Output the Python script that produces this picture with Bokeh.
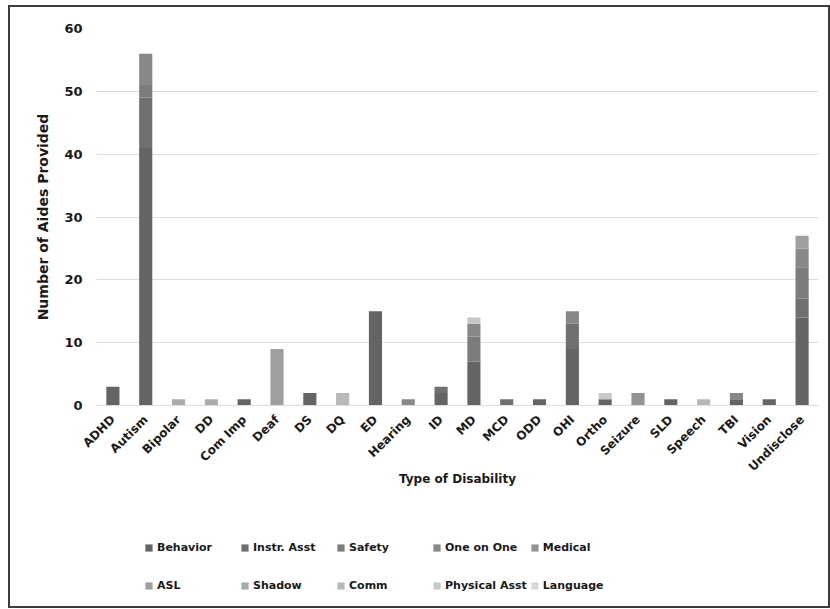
from math import pi

from bokeh.embed import file_html
from bokeh.layouts import column
from bokeh.models import ColumnDataSource, Legend, LegendItem, FactorRange, Range1d
from bokeh.plotting import figure
from bokeh.resources import INLINE

# Disability categories along the x axis
categories = ["ADHD", "Autism", "Bipolar", "DD", "Com Imp", "Deaf", "DS", "DQ",
              "ED", "Hearing", "ID", "MD", "MCD", "ODD", "OHI", "Ortho",
              "Seizure", "SLD", "Speech", "TBI", "Vision", "Undisclose"]

# Aide types (stacked from the bottom up)
aide_types = ["Behavior", "Instr. Asst", "Safety", "One on One", "Medical",
              "ASL", "Shadow", "Comm", "Physical Asst", "Language"]

behavior      = [3, 41, 0, 0, 1, 0, 2, 0, 15, 0, 2, 7, 0, 1, 9, 1, 0, 1, 0, 1, 1, 14]
instr_asst    = [0, 8, 0, 0, 0, 0, 0, 0, 0, 0, 1, 0, 1, 0, 4, 0, 0, 0, 0, 0, 0, 3]
safety        = [0, 2, 0, 0, 0, 0, 0, 0, 0, 0, 0, 4, 0, 0, 0, 0, 0, 0, 0, 0, 0, 5]
one_on_one    = [0, 5, 0, 0, 0, 0, 0, 0, 0, 1, 0, 2, 0, 0, 2, 0, 0, 0, 0, 1, 0, 3]
medical       = [0, 0, 0, 0, 0, 0, 0, 0, 0, 0, 0, 0, 0, 0, 0, 0, 2, 0, 0, 0, 0, 0]
asl           = [0, 0, 0, 0, 0, 9, 0, 0, 0, 0, 0, 0, 0, 0, 0, 0, 0, 0, 0, 0, 0, 2]
shadow        = [0, 0, 1, 1, 0, 0, 0, 0, 0, 0, 0, 0, 0, 0, 0, 0, 0, 0, 0, 0, 0, 0]
comm          = [0, 0, 0, 0, 0, 0, 0, 2, 0, 0, 0, 0, 0, 0, 0, 0, 0, 0, 1, 0, 0, 0]
physical_asst = [0, 0, 0, 0, 0, 0, 0, 0, 0, 0, 0, 1, 0, 0, 0, 1, 0, 0, 0, 0, 0, 0]
language      = [0, 0, 0, 0, 0, 0, 0, 0, 0, 0, 0, 0, 0, 0, 0, 0, 0, 0, 0, 0, 0, 0]

y_ticks = [0, 10, 20, 30, 40, 50, 60]

series_values = [behavior, instr_asst, safety, one_on_one, medical,
                 asl, shadow, comm, physical_asst, language]
grays = ["#646464", "#707070", "#7c7c7c", "#888888", "#939393",
         "#9f9f9f", "#ababab", "#b9b9b9", "#c8c8c8", "#d9d9d9"]

data = {"category": categories}
for name, vals in zip(aide_types, series_values):
    data[name] = vals
source = ColumnDataSource(data)

FONT = "DejaVu Sans"
TEXT = "#1a1a1a"

# ---- main chart -------------------------------------------------------------
p = figure(
    x_range=FactorRange(*categories, range_padding=0.0),
    y_range=(0, 60),
    width=818, height=500,
    output_backend="svg", toolbar_location=None,
    min_border_left=86, min_border_right=10, min_border_top=21,
    min_border_bottom=102,
)
p.outline_line_color = None
p.background_fill_color = "white"
p.border_fill_color = "white"

p.vbar_stack(aide_types, x="category", width=0.4, source=source,
             color=grays, line_color=None)

p.yaxis.ticker = y_ticks
p.yaxis.axis_line_color = None
p.yaxis.major_tick_line_color = None
p.yaxis.minor_tick_line_color = None
p.yaxis.major_label_text_font = FONT
p.yaxis.major_label_text_font_style = "bold"
p.yaxis.major_label_text_font_size = "13px"
p.yaxis.major_label_text_color = TEXT
p.yaxis.major_label_standoff = 8
p.yaxis.axis_label = "Number of Aides Provided"
p.yaxis.axis_label_text_font = FONT
p.yaxis.axis_label_text_font_style = "bold"
p.yaxis.axis_label_text_font_size = "14px"
p.yaxis.axis_label_text_color = TEXT
p.yaxis.axis_label_standoff = 10

p.xaxis.axis_line_color = "#d9dde6"
p.xaxis.major_tick_line_color = None
p.xaxis.minor_tick_line_color = None
p.xaxis.major_label_orientation = pi / 4
p.xaxis.major_label_text_font = FONT
p.xaxis.major_label_text_font_style = "bold"
p.xaxis.major_label_text_font_size = "12px"
p.xaxis.major_label_text_color = TEXT
p.xaxis.major_label_standoff = 6
p.xaxis.axis_label = "Type of Disability"
p.xaxis.axis_label_text_font = FONT
p.xaxis.axis_label_text_font_style = "bold"
p.xaxis.axis_label_text_font_size = "12px"
p.xaxis.axis_label_text_color = TEXT
p.xaxis.axis_label_standoff = -10

p.xgrid.grid_line_color = None
p.ygrid.grid_line_color = "#d9dde6"
p.ygrid.grid_line_width = 1

# ---- legend strip -----------------------------------------------------------
# Same stacked series drawn on a range that keeps the bars out of view,
# so only the legend entries are visible.
leg = figure(
    x_range=FactorRange(*categories), y_range=Range1d(100, 200),
    width=818, height=99,
    output_backend="svg", toolbar_location=None,
    min_border=0,
)
leg.axis.visible = False
leg.grid.visible = False
leg.outline_line_color = None
leg_renderers = leg.vbar_stack(aide_types, x="category", width=0.4, source=source,
                               color=grays, line_color=None)

items = [LegendItem(label=name, renderers=[r]) for name, r in zip(aide_types, leg_renderers)]
legend = Legend(items=items, nrows=2, ncols=5, orientation="horizontal",
                location=(48, 3), border_line_color=None,
                background_fill_alpha=0,
                glyph_width=9, glyph_height=9, label_standoff=4,
                label_width=80, label_height=35, spacing=3, padding=0, margin=0,
                label_text_font=FONT, label_text_font_style="bold",
                label_text_font_size="11px", label_text_color=TEXT)
leg.add_layout(legend, "center")

chart = column(p, leg, spacing=0)
chart.styles = {"border": "2px solid #3c3c3c", "margin-left": "8px", "margin-top": "5px"}

with open("out.html", "w") as f:
    f.write(file_html(chart, INLINE))
